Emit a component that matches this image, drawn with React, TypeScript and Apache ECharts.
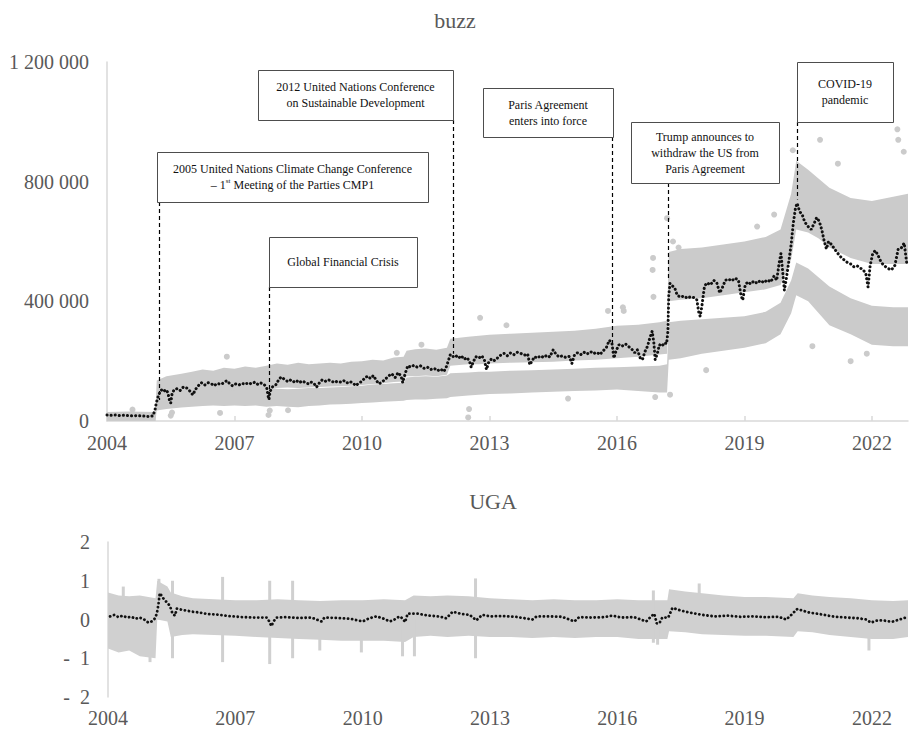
import React, { useEffect, useRef } from "react";
import * as echarts from "echarts";

// ---------- axis ranges / ticks ----------
const X_MIN = 2004;
const X_MAX = 2022.85;
const X_INTERVAL = 3; // tick labels: 2004, 2007, ..., 2022
const BUZZ_MAX = 1200000;
const BUZZ_INTERVAL = 400000;
const UGA_MIN = -2;
const UGA_MAX = 2;

// ---------- buzz: moving average (black dotted) [year, value] ----------
const buzzTrend: [number, number][] = [
  [2004.0, 20000], [2004.1, 19000], [2004.2, 20000], [2004.3, 18000], [2004.4, 19000],
  [2004.5, 18000], [2004.6, 17000], [2004.7, 18000], [2004.8, 17000], [2004.9, 16000],
  [2005.0, 15000], [2005.08, 17000], [2005.13, 37000], [2005.16, 60000], [2005.2, 80000],
  [2005.24, 95000], [2005.28, 104000], [2005.33, 98000], [2005.38, 105000], [2005.43, 96000],
  [2005.47, 70000], [2005.5, 60000], [2005.53, 90000], [2005.58, 105000], [2005.65, 108000],
  [2005.72, 102000], [2005.8, 114000], [2005.88, 110000], [2005.95, 100000], [2006.02, 87000],
  [2006.08, 105000], [2006.15, 118000], [2006.22, 128000], [2006.3, 120000], [2006.38, 128000],
  [2006.45, 125000], [2006.52, 118000], [2006.6, 126000], [2006.68, 122000], [2006.75, 128000],
  [2006.82, 135000], [2006.88, 126000], [2006.95, 118000], [2007.02, 124000], [2007.1, 120000],
  [2007.18, 126000], [2007.25, 122000], [2007.32, 128000], [2007.4, 124000], [2007.48, 130000],
  [2007.55, 122000], [2007.62, 127000], [2007.7, 122000], [2007.76, 110000], [2007.79, 85000],
  [2007.81, 72000], [2007.84, 100000], [2007.9, 115000], [2007.96, 118000], [2008.05, 140000],
  [2008.1, 147000], [2008.17, 140000], [2008.24, 133000], [2008.3, 138000], [2008.38, 130000],
  [2008.45, 136000], [2008.52, 128000], [2008.6, 134000], [2008.67, 128000], [2008.74, 124000],
  [2008.8, 130000], [2008.87, 126000], [2008.93, 113000], [2009.0, 128000], [2009.06, 137000],
  [2009.13, 132000], [2009.2, 138000], [2009.28, 134000], [2009.35, 128000], [2009.42, 133000],
  [2009.5, 130000], [2009.57, 135000], [2009.64, 127000], [2009.72, 132000], [2009.8, 125000],
  [2009.86, 118000], [2009.93, 128000], [2010.0, 132000], [2010.07, 145000], [2010.14, 150000],
  [2010.2, 142000], [2010.27, 152000], [2010.34, 135000], [2010.4, 124000], [2010.47, 130000],
  [2010.55, 140000], [2010.62, 150000], [2010.7, 158000], [2010.78, 145000], [2010.85, 162000],
  [2010.92, 150000], [2010.96, 128000], [2011.02, 160000], [2011.08, 185000], [2011.15, 180000],
  [2011.22, 186000], [2011.3, 180000], [2011.38, 184000], [2011.46, 176000], [2011.54, 180000],
  [2011.62, 172000], [2011.7, 176000], [2011.78, 168000], [2011.85, 174000], [2011.92, 165000],
  [2011.97, 175000], [2012.03, 200000], [2012.08, 222000], [2012.14, 215000], [2012.2, 220000],
  [2012.27, 210000], [2012.34, 218000], [2012.4, 206000], [2012.47, 212000], [2012.53, 200000],
  [2012.57, 180000], [2012.62, 198000], [2012.68, 215000], [2012.75, 210000], [2012.82, 218000],
  [2012.88, 205000], [2012.93, 172000], [2012.98, 195000], [2013.05, 208000], [2013.12, 202000],
  [2013.2, 212000], [2013.28, 222000], [2013.35, 226000], [2013.42, 218000], [2013.5, 228000],
  [2013.58, 222000], [2013.66, 230000], [2013.74, 226000], [2013.82, 220000], [2013.9, 224000],
  [2013.95, 188000], [2014.0, 200000], [2014.06, 215000], [2014.13, 210000], [2014.2, 218000],
  [2014.28, 212000], [2014.35, 220000], [2014.42, 214000], [2014.5, 238000], [2014.57, 222000],
  [2014.64, 214000], [2014.72, 218000], [2014.8, 212000], [2014.88, 216000], [2014.94, 192000],
  [2015.0, 220000], [2015.07, 228000], [2015.15, 222000], [2015.22, 230000], [2015.3, 224000],
  [2015.38, 232000], [2015.45, 225000], [2015.52, 230000], [2015.6, 222000], [2015.68, 235000],
  [2015.75, 245000], [2015.82, 270000], [2015.88, 262000], [2015.93, 210000], [2015.98, 235000],
  [2016.05, 255000], [2016.12, 250000], [2016.2, 258000], [2016.28, 248000], [2016.35, 240000],
  [2016.42, 228000], [2016.48, 238000], [2016.55, 210000], [2016.6, 205000], [2016.66, 232000],
  [2016.72, 250000], [2016.78, 280000], [2016.83, 300000], [2016.87, 260000], [2016.9, 205000],
  [2016.95, 225000], [2017.0, 255000], [2017.06, 250000], [2017.12, 262000], [2017.17, 258000],
  [2017.2, 300000], [2017.22, 420000], [2017.25, 460000], [2017.3, 452000], [2017.36, 445000],
  [2017.42, 420000], [2017.5, 414000], [2017.58, 418000], [2017.66, 410000], [2017.74, 416000],
  [2017.82, 412000], [2017.88, 405000], [2017.93, 360000], [2017.96, 350000], [2018.0, 385000],
  [2018.06, 450000], [2018.12, 462000], [2018.2, 455000], [2018.28, 470000], [2018.35, 462000],
  [2018.42, 428000], [2018.48, 445000], [2018.55, 470000], [2018.62, 475000], [2018.7, 468000],
  [2018.78, 478000], [2018.86, 470000], [2018.92, 420000], [2018.96, 404000], [2019.02, 455000],
  [2019.08, 465000], [2019.15, 458000], [2019.22, 468000], [2019.3, 460000], [2019.38, 470000],
  [2019.46, 462000], [2019.54, 472000], [2019.62, 465000], [2019.7, 485000], [2019.76, 470000],
  [2019.82, 530000], [2019.86, 560000], [2019.9, 500000], [2019.94, 437000], [2019.98, 470000],
  [2020.04, 528000], [2020.1, 590000], [2020.15, 660000], [2020.2, 710000], [2020.24, 728000],
  [2020.3, 700000], [2020.36, 690000], [2020.42, 665000], [2020.5, 650000], [2020.57, 640000],
  [2020.64, 660000], [2020.7, 680000], [2020.76, 668000], [2020.82, 640000], [2020.88, 600000],
  [2020.93, 575000], [2020.98, 600000], [2021.05, 590000], [2021.12, 575000], [2021.2, 560000],
  [2021.27, 548000], [2021.35, 538000], [2021.42, 530000], [2021.5, 525000], [2021.58, 515000],
  [2021.66, 518000], [2021.74, 510000], [2021.8, 505000], [2021.86, 490000], [2021.91, 448000],
  [2021.96, 520000], [2022.02, 560000], [2022.08, 570000], [2022.14, 555000], [2022.22, 530000],
  [2022.3, 518000], [2022.38, 510000], [2022.46, 505000], [2022.54, 520000], [2022.62, 575000],
  [2022.7, 580000], [2022.76, 595000], [2022.82, 528000],
];

// ---------- buzz: daily cloud (grey) as bands ----------
const cloudYears = [
  2004.0, 2004.5, 2005.14, 2005.17, 2005.4, 2005.75, 2006.0, 2006.25, 2006.5, 2006.75,
  2007.0, 2007.25, 2007.5, 2007.75, 2008.0, 2008.25, 2008.5, 2008.75, 2009.0, 2009.25,
  2009.5, 2009.75, 2010.0, 2010.25, 2010.5, 2010.75, 2010.98, 2011.05, 2011.25, 2011.5,
  2011.75, 2012.0, 2012.08, 2012.5, 2012.75, 2013.0, 2013.5, 2014.0, 2014.5, 2015.0,
  2015.5, 2016.0, 2016.5, 2017.0, 2017.18, 2017.22, 2017.5, 2018.0, 2018.5, 2019.0,
  2019.5, 2019.85, 2020.1, 2020.22, 2020.5, 2020.75, 2021.0, 2021.5, 2022.0, 2022.5, 2022.85,
];
const cloudUpperLo = [
  0, 0, 0, 70000, 80000, 88000, 92000, 95000, 98000, 100000,
  102000, 105000, 106000, 104000, 110000, 112000, 110000, 112000, 114000, 115000,
  116000, 118000, 120000, 124000, 126000, 130000, 132000, 150000, 150000, 152000,
  150000, 155000, 185000, 190000, 190000, 192000, 195000, 196000, 198000, 202000,
  205000, 210000, 215000, 222000, 225000, 400000, 405000, 410000, 420000, 430000,
  440000, 455000, 540000, 640000, 630000, 610000, 580000, 545000, 525000, 525000, 525000,
];
const cloudUpperHi = [
  30000, 32000, 30000, 135000, 150000, 158000, 165000, 172000, 168000, 178000,
  175000, 182000, 178000, 185000, 192000, 188000, 195000, 190000, 192000, 195000,
  192000, 198000, 200000, 205000, 202000, 212000, 215000, 235000, 240000, 242000,
  238000, 245000, 275000, 282000, 285000, 288000, 292000, 295000, 298000, 302000,
  308000, 318000, 322000, 330000, 335000, 565000, 575000, 580000, 590000, 600000,
  615000, 640000, 760000, 870000, 840000, 810000, 780000, 745000, 735000, 750000, 760000,
];
const cloudLowerLo = [
  0, 0, 0, 35000, 40000, 45000, 48000, 50000, 52000, 50000,
  52000, 50000, 52000, 48000, 50000, 48000, 46000, 50000, 52000, 55000,
  56000, 58000, 60000, 62000, 64000, 66000, 68000, 70000, 72000, 72000,
  74000, 76000, 80000, 85000, 88000, 90000, 92000, 95000, 98000, 100000,
  102000, 105000, 100000, 95000, 95000, 205000, 210000, 225000, 235000, 245000,
  260000, 290000, 360000, 420000, 400000, 360000, 320000, 290000, 255000, 250000, 250000,
];
const cloudLowerHi = [
  30000, 28000, 30000, 95000, 105000, 110000, 112000, 112000, 115000, 112000,
  115000, 112000, 110000, 110000, 108000, 106000, 108000, 110000, 110000, 112000,
  114000, 116000, 118000, 122000, 124000, 126000, 128000, 145000, 148000, 150000,
  148000, 152000, 160000, 162000, 165000, 165000, 168000, 170000, 172000, 175000,
  178000, 180000, 182000, 185000, 190000, 330000, 335000, 340000, 345000, 350000,
  365000, 395000, 470000, 530000, 510000, 480000, 450000, 410000, 385000, 380000, 380000,
];
const buzzOutliers: [number, number][] = [
  [2004.6, 38000], [2005.5, 18000], [2005.53, 28000], [2006.66, 27000], [2006.82, 215000],
  [2007.8, 20000], [2007.83, 35000], [2008.26, 36000], [2010.82, 228000], [2011.4, 255000],
  [2012.5, 12000], [2012.52, 40000], [2012.78, 345000], [2013.4, 320000], [2014.85, 75000],
  [2015.79, 368000], [2016.14, 380000], [2016.16, 368000], [2016.84, 505000], [2016.85, 545000],
  [2016.86, 415000], [2017.18, 678000], [2017.32, 600000], [2017.45, 580000], [2016.9, 80000],
  [2017.25, 88000], [2018.1, 170000], [2019.3, 650000], [2019.7, 690000], [2020.14, 905000],
  [2020.78, 940000], [2021.2, 860000], [2021.88, 225000], [2022.6, 975000], [2022.62, 940000],
  [2022.75, 900000], [2020.6, 250000], [2021.5, 200000],
];

// ---------- UGA ----------
const ugaTrend: [number, number][] = [
  [2004.05, 0.08], [2004.15, 0.12], [2004.25, 0.06], [2004.35, 0.1], [2004.45, 0.05],
  [2004.55, 0.07], [2004.65, 0.02], [2004.75, 0.05], [2004.85, 0.0], [2004.95, -0.08],
  [2005.03, -0.05], [2005.1, 0.02], [2005.15, 0.15], [2005.19, 0.4], [2005.22, 0.68],
  [2005.26, 0.62], [2005.3, 0.55], [2005.38, 0.45], [2005.46, 0.35], [2005.52, 0.15],
  [2005.58, 0.1], [2005.62, 0.28], [2005.75, 0.25], [2005.85, 0.23], [2006.0, 0.2],
  [2006.16, 0.18], [2006.35, 0.14], [2006.56, 0.13], [2006.75, 0.1], [2006.95, 0.08],
  [2007.2, 0.06], [2007.45, 0.05], [2007.74, 0.05], [2007.8, -0.05], [2007.85, -0.17],
  [2007.9, -0.05], [2007.97, 0.05], [2008.2, 0.06], [2008.5, 0.04], [2008.8, 0.05],
  [2009.03, -0.05], [2009.1, 0.05], [2009.4, 0.04], [2009.7, 0.02], [2010.0, -0.05],
  [2010.15, 0.03], [2010.33, 0.08], [2010.5, 0.02], [2010.64, -0.05], [2010.75, 0.0],
  [2010.87, 0.08], [2010.95, 0.02], [2011.0, -0.07], [2011.06, 0.15], [2011.3, 0.15],
  [2011.55, 0.1], [2011.8, 0.08], [2011.97, 0.03], [2012.12, 0.2], [2012.3, 0.15],
  [2012.52, 0.12], [2012.68, -0.02], [2012.82, 0.12], [2013.0, 0.08], [2013.3, 0.09],
  [2013.6, 0.07], [2014.0, 0.0], [2014.1, 0.08], [2014.4, 0.08], [2014.7, 0.07],
  [2014.99, -0.05], [2015.1, 0.06], [2015.4, 0.05], [2015.7, 0.06], [2015.88, 0.1],
  [2016.1, 0.05], [2016.4, 0.06], [2016.68, -0.05], [2016.8, 0.08], [2016.87, 0.15],
  [2016.93, -0.1], [2016.99, -0.1], [2017.06, 0.05], [2017.2, 0.05], [2017.3, 0.3],
  [2017.53, 0.22], [2017.75, 0.17], [2018.0, 0.12], [2018.3, 0.08], [2018.6, 0.1],
  [2018.9, 0.07], [2019.2, 0.08], [2019.5, 0.06], [2019.8, 0.07], [2019.98, 0.0],
  [2020.1, 0.12], [2020.24, 0.27], [2020.52, 0.18], [2020.83, 0.13], [2021.06, 0.08],
  [2021.4, 0.05], [2021.7, 0.03], [2021.86, 0.0], [2021.98, -0.08], [2022.1, -0.03],
  [2022.24, -0.02], [2022.47, -0.06], [2022.65, 0.0], [2022.8, 0.05],
];
const ugaBandYears = [
  2004.0, 2004.25, 2004.5, 2004.75, 2005.12, 2005.16, 2005.4, 2005.48, 2005.75, 2006.0,
  2006.5, 2007.0, 2007.5, 2008.0, 2008.5, 2009.0, 2009.5, 2010.0, 2010.5, 2011.0,
  2011.2, 2011.6, 2012.0, 2012.5, 2013.0, 2013.5, 2014.0, 2014.5, 2015.0, 2015.5,
  2016.0, 2016.5, 2017.18, 2017.22, 2017.6, 2018.0, 2018.5, 2019.0, 2019.5, 2020.15,
  2020.25, 2020.6, 2021.0, 2021.5, 2022.0, 2022.5, 2022.85,
];
const ugaBandLo = [
  -0.75, -0.85, -0.8, -0.95, -1.0, 0.0, -0.05, -0.45, -0.4, -0.38,
  -0.4, -0.42, -0.45, -0.48, -0.5, -0.52, -0.55, -0.55, -0.55, -0.58,
  -0.45, -0.42, -0.45, -0.42, -0.45, -0.45, -0.48, -0.45, -0.48, -0.45,
  -0.45, -0.5, -0.5, -0.3, -0.33, -0.38, -0.4, -0.42, -0.42, -0.45,
  -0.3, -0.33, -0.4, -0.45, -0.5, -0.5, -0.45,
];
const ugaBandHi = [
  0.7, 0.62, 0.6, 0.62, 0.55, 1.0, 0.85, 0.7, 0.6, 0.55,
  0.52, 0.5, 0.5, 0.52, 0.5, 0.48, 0.5, 0.5, 0.52, 0.5,
  0.62, 0.6, 0.62, 0.6, 0.55, 0.52, 0.5, 0.52, 0.5, 0.5,
  0.52, 0.5, 0.5, 0.78, 0.72, 0.68, 0.62, 0.58, 0.58, 0.55,
  0.68, 0.62, 0.58, 0.55, 0.5, 0.48, 0.5,
];
// spikes: [year, low, high]
const ugaSpikes: [number, number, number][] = [
  [2004.36, 0.0, 0.85], [2004.99, -1.1, 0.0], [2005.2, 0.0, 1.05], [2005.52, -1.0, 1.0],
  [2006.7, -1.1, 1.1], [2007.81, -1.15, 1.0], [2008.35, -1.0, 1.0], [2008.99, -0.8, 0.0],
  [2009.97, -0.85, 0.0], [2010.94, -0.95, 0.0], [2011.22, -0.95, 0.0], [2012.66, -1.0, 1.06],
  [2016.85, -0.6, 0.75], [2016.95, -0.65, 0.0], [2017.93, 0.0, 0.93], [2021.93, -0.8, 0.0],
];

// ---------- events ----------
const eventYears = [2005.22, 2007.81, 2012.14, 2015.89, 2017.2, 2020.24];
const eventLineEnds = [70000, 70000, 225000, 260000, 470000, 740000];
const eventLabels = [
  "2005 United Nations Climate Change Conference\n– 1{sup|st} Meeting of the Parties CMP1",
  "Global Financial Crisis",
  "2012 United Nations Conference\non Sustainable Development",
  "Paris Agreement\nenters into force",
  "Trump announces to\nwithdraw the US from\nParis Agreement",
  "COVID-19\npandemic",
];
// layout of the annotation boxes (pixels): x, y, w, h
const eventBoxes = [
  [157, 152, 271, 50],
  [269, 237, 148, 50],
  [258, 70, 195, 50],
  [483, 88, 130, 49],
  [631, 122, 148, 61],
  [797, 62, 96, 60],
];

// ---------- layout ----------
const W = 909;
const H = 729;
const TOP_GRID = { left: 107, top: 62, height: 359 };
const BOT_GRID = { left: 108, top: 542, height: 155 };
const FONT = "'Liberation Serif', 'Times New Roman', serif";
const LABEL_GREY = "#595959";
const AXIS_GREY = "#d9d9d9";
const CLOUD_GREY = "#cbcbcb";
const UGA_GREY = "#d0d0d0";

const pxToBuzz = (py: number) =>
  ((TOP_GRID.top + TOP_GRID.height - py) / TOP_GRID.height) * BUZZ_MAX;

const bandRender = (xs: number[], lo: number[], hi: number[], fill: string) =>
  (params: any, api: any) => {
    if (params.dataIndex !== 0) return null;
    const pts: number[][] = [];
    for (let i = 0; i < xs.length; i++) pts.push(api.coord([xs[i], hi[i]]));
    for (let i = xs.length - 1; i >= 0; i--) pts.push(api.coord([xs[i], lo[i]]));
    return { type: "polygon", shape: { points: pts }, style: { fill }, silent: true };
  };

const thousands = (v: number) =>
  String(Math.round(v)).replace(/\B(?=(\d{3})+(?!\d))/g, " ");

export default function App() {
  const ref = useRef<HTMLDivElement | null>(null);

  useEffect(() => {
    if (!ref.current) return;
    const chart = echarts.init(ref.current, undefined, { renderer: "svg", width: W, height: H });

    const graphic: any[] = [
      {
        type: "text", x: 455, y: 20, silent: true,
        style: { text: "buzz", fontSize: 22, fontFamily: FONT, fill: LABEL_GREY,
          align: "center", verticalAlign: "middle", textAlign: "center", textVerticalAlign: "middle" },
      },
      {
        type: "text", x: 493, y: 501, silent: true,
        style: { text: "UGA", fontSize: 22, fontFamily: FONT, fill: LABEL_GREY,
          align: "center", verticalAlign: "middle", textAlign: "center", textVerticalAlign: "middle" },
      },
    ];
    eventBoxes.forEach((b, i) => {
      graphic.push({
        type: "rect", silent: true, z: 100,
        shape: { x: b[0] + 0.5, y: b[1] + 0.5, width: b[2], height: b[3] },
        style: { fill: "#ffffff", stroke: "#4d4d4d", lineWidth: 1 },
      });
      graphic.push({
        type: "text", silent: true, z: 101,
        x: b[0] + b[2] / 2, y: b[1] + b[3] / 2,
        style: {
          text: eventLabels[i], fontSize: 12, fontFamily: FONT, fill: "#111111",
          lineHeight: 16,
          align: "center", verticalAlign: "middle", textAlign: "center", textVerticalAlign: "middle",
          rich: {
            sup: { fontSize: 7, fontFamily: FONT, fill: "#111111", verticalAlign: "top", lineHeight: 16 },
          },
        },
      });
    });

    const option: any = {
      animation: false,
      backgroundColor: "#ffffff",
      grid: [
        { left: TOP_GRID.left, right: 1, top: TOP_GRID.top, height: TOP_GRID.height },
        { left: BOT_GRID.left, right: 1, top: BOT_GRID.top, height: BOT_GRID.height },
      ],
      xAxis: [
        {
          type: "value", gridIndex: 0, min: X_MIN, max: X_MAX, interval: X_INTERVAL,
          axisLine: { show: true, lineStyle: { color: AXIS_GREY, width: 1.5 } },
          axisTick: { show: true, inside: true, length: 5, lineStyle: { color: AXIS_GREY, width: 1.5 } },
          axisLabel: { color: LABEL_GREY, fontFamily: FONT, fontSize: 20, margin: 12,
            formatter: (v: number) => String(Math.round(v)) },
          splitLine: { show: false },
        },
        {
          type: "value", gridIndex: 1, min: X_MIN, max: X_MAX, interval: X_INTERVAL,
          axisLine: { show: false }, axisTick: { show: false },
          axisLabel: { color: LABEL_GREY, fontFamily: FONT, fontSize: 20, margin: 11,
            formatter: (v: number) => String(Math.round(v)) },
          splitLine: { show: false },
        },
      ],
      yAxis: [
        {
          type: "value", gridIndex: 0, min: 0, max: BUZZ_MAX, interval: BUZZ_INTERVAL,
          axisLine: { show: true, lineStyle: { color: AXIS_GREY, width: 1.5 } },
          axisTick: { show: false }, splitLine: { show: false },
          axisLabel: { color: LABEL_GREY, fontFamily: FONT, fontSize: 20, margin: 18,
            formatter: (v: number) => thousands(v) },
        },
        {
          type: "value", gridIndex: 1, min: UGA_MIN, max: UGA_MAX, interval: 1,
          axisLine: { show: true, lineStyle: { color: AXIS_GREY, width: 1.5 } },
          axisTick: { show: false }, splitLine: { show: false },
          axisLabel: { color: LABEL_GREY, fontFamily: FONT, fontSize: 20, margin: 18,
            formatter: (v: number) => (v < 0 ? "-  " + String(-v) : String(v)) },
        },
      ],
      series: [
        {
          type: "custom", xAxisIndex: 0, yAxisIndex: 0, silent: true, clip: true, z: 1,
          data: [[cloudYears[0], cloudLowerHi[0]]], encode: { x: 0, y: 1 },
          renderItem: bandRender(cloudYears, cloudLowerLo, cloudLowerHi, CLOUD_GREY),
        },
        {
          type: "custom", xAxisIndex: 0, yAxisIndex: 0, silent: true, clip: true, z: 1,
          data: [[cloudYears[0], cloudUpperHi[0]]], encode: { x: 0, y: 1 },
          renderItem: bandRender(cloudYears, cloudUpperLo, cloudUpperHi, CLOUD_GREY),
        },
        {
          type: "scatter", xAxisIndex: 0, yAxisIndex: 0, silent: true, z: 2,
          symbolSize: 6, itemStyle: { color: CLOUD_GREY, opacity: 1 },
          data: buzzOutliers,
        },
        {
          type: "line", xAxisIndex: 0, yAxisIndex: 0, silent: true, z: 5,
          symbol: "none", showSymbol: false,
          lineStyle: { color: "#111111", width: 3, type: [0.1, 4], cap: "round" },
          data: buzzTrend,
          markLine: {
            silent: true, symbol: ["none", "none"], label: { show: false },
            lineStyle: { color: "#000000", width: 1.2, type: [4, 3] },
            data: eventYears.map((yr, i) => [
              { coord: [yr, pxToBuzz(eventBoxes[i][1] + eventBoxes[i][3])] },
              { coord: [yr, eventLineEnds[i]] },
            ]),
          },
        },
        {
          type: "custom", xAxisIndex: 1, yAxisIndex: 1, silent: true, clip: true, z: 1,
          data: [[ugaBandYears[0], ugaBandHi[0]]], encode: { x: 0, y: 1 },
          renderItem: bandRender(ugaBandYears, ugaBandLo, ugaBandHi, UGA_GREY),
        },
        {
          type: "custom", xAxisIndex: 1, yAxisIndex: 1, silent: true, clip: true, z: 1,
          data: ugaSpikes, encode: { x: 0, y: [1, 2] },
          renderItem: (params: any, api: any) => {
            const p1 = api.coord([api.value(0), api.value(1)]);
            const p2 = api.coord([api.value(0), api.value(2)]);
            return {
              type: "line", shape: { x1: p1[0], y1: p1[1], x2: p2[0], y2: p2[1] },
              style: { stroke: UGA_GREY, lineWidth: 3 }, silent: true,
            };
          },
        },
        {
          type: "line", xAxisIndex: 1, yAxisIndex: 1, silent: true, z: 5,
          symbol: "none", showSymbol: false,
          lineStyle: { color: "#111111", width: 2.8, type: [0.1, 4], cap: "round" },
          data: ugaTrend,
        },
      ],
      graphic,
    };
    chart.setOption(option);
    return () => chart.dispose();
  }, []);

  return (
    <div
      ref={ref}
      style={{ position: "fixed", left: 0, top: 0, width: W, height: H, background: "#ffffff" }}
    />
  );
}
